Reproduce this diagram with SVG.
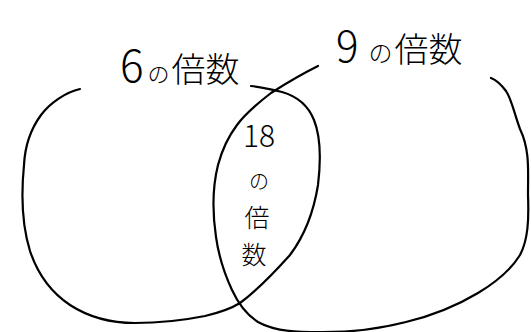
<svg xmlns="http://www.w3.org/2000/svg" width="531" height="332" viewBox="0 0 531 332">
<style>
.c{fill:none;stroke:#000;stroke-width:2.2;stroke-linecap:round;stroke-linejoin:round}
.t{font-family:"Noto Sans CJK JP","Noto Sans",sans-serif;fill:#000;font-weight:300}
</style>
<rect width="531" height="332" fill="#fff"/>
<g id="set6">
<path class="c" d="M80,89 C66,92 50,103 41,115 C30,130 25,145 24,165 C21,195 22,225 30,251 C38,275 52,293 70,305 C90,318 110,323 135,323 C160,323 185,320 205,316 C222,312 232,308 240,303 C255,292 272,275 290,255 C305,235 314,210 318,185 C321,160 320,135 314,120 C308,105 296,96 282,92 C270,89 260,87 251,86"/>
<text class="t" x="120" y="82" font-size="34"><tspan font-size="44">6</tspan><tspan font-size="22" dx="4">の</tspan><tspan dx="2">倍数</tspan></text>
</g>
<g id="set9">
<path class="c" d="M318,66 C300,75 285,84 271,93 C258,103 245,114 237,125 C228,137 222,150 218,165 C213,185 212,210 216,237 C219,258 225,275 232,290 C238,303 247,315 258,322 C272,330 290,332 310,332 C340,333 375,330 406,322 C435,315 458,305 478,293 C498,281 512,268 520,255 C528,240 529,220 528,195 C528,170 530,150 520,129 C514,113 512,100 506,91 C500,83 496,80 491,78"/>
<text class="t" x="336" y="62" font-size="34"><tspan font-size="42">9</tspan><tspan font-size="24" dx="10">の</tspan><tspan dx="2">倍数</tspan></text>
</g>
<g id="intersection">
<text class="t" text-anchor="middle"><tspan x="259" y="147" font-size="30">18</tspan><tspan x="259" y="189" font-size="20">の</tspan><tspan x="257" y="227" font-size="25">倍</tspan><tspan x="254" y="264" font-size="25">数</tspan></text>
</g>
<g id="connectors"></g>
</svg>
